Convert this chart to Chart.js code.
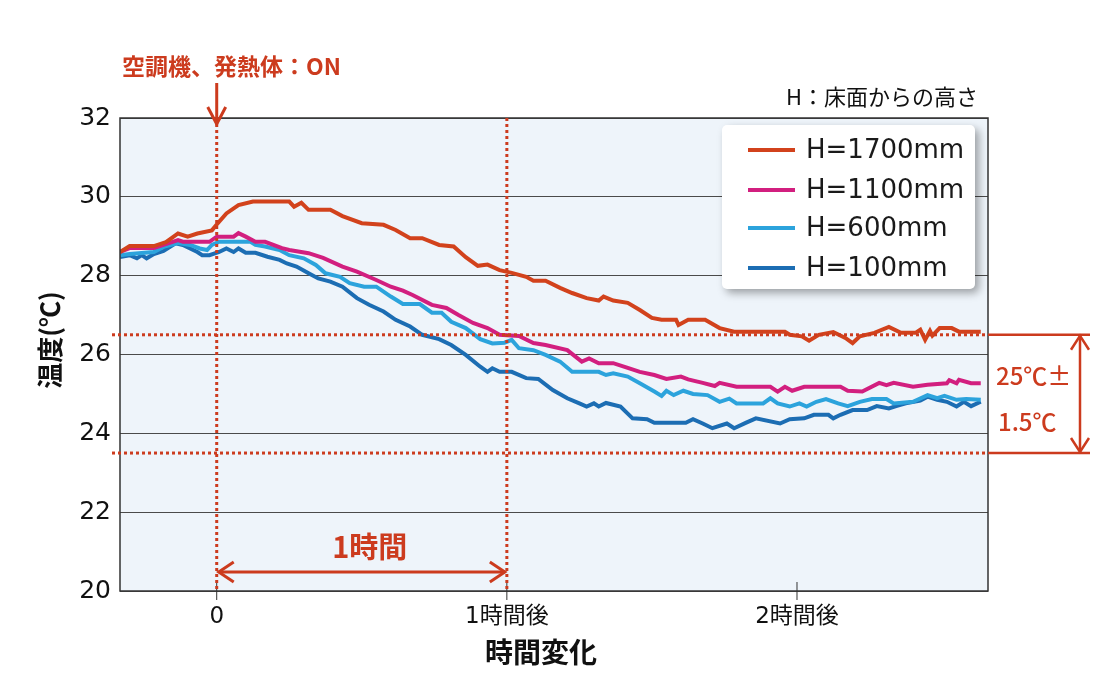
<!DOCTYPE html>
<html>
<head>
<meta charset="utf-8">
<script src="https://cdn.jsdelivr.net/npm/chart.js@4.4.1/dist/chart.umd.min.js"></script>
<style>
  body { margin: 0; background: #fff; }
  canvas { display: block; }
</style>
</head>
<body>
<canvas id="chart-temp" width="1120" height="685"></canvas>
<script>
// Data: [minutes from start, temperature]
const seriesLabels = ['H=1700mm', 'H=1100mm', 'H=600mm', 'H=100mm'];
const seriesColors = ['#d2421c', '#d21f7f', '#2ca3dc', '#1c6db3'];

const h1700 = [[-20,28.6],[-18,28.75],[-13,28.75],[-10.5,28.85],[-8,29.07],[-6,28.99],[-4,29.07],[-1,29.15],[0,29.3],[2,29.58],[4.5,29.79],[7.5,29.88],[15,29.88],[16,29.75],[17.5,29.85],[19,29.67],[23.5,29.67],[26,29.51],[30,29.33],[34.5,29.29],[37,29.16],[40,28.95],[42.5,28.95],[46,28.78],[49,28.74],[51.5,28.47],[54,28.25],[56,28.28],[58.5,28.14],[61,28.07],[64,27.97],[65.5,27.87],[68,27.87],[71,27.69],[73.5,27.56],[76.5,27.43],[79,27.37],[80,27.47],[82,27.37],[85,27.31],[87.5,27.13],[90,26.93],[92,26.88],[95,26.88],[95.5,26.75],[97.5,26.88],[101,26.88],[104,26.67],[107,26.58],[117.5,26.58],[118.5,26.5],[121,26.46],[122.5,26.35],[124.5,26.5],[127.5,26.57],[130,26.42],[131.5,26.29],[133,26.46],[136,26.55],[139,26.7],[141.5,26.55],[144.5,26.55],[145.5,26.63],[146.5,26.37],[147.5,26.6],[148,26.48],[149.5,26.67],[152,26.67],[153.5,26.58],[158,26.58]];

const h1100 = [[-20,28.6],[-18,28.7],[-13,28.7],[-8,28.9],[-7,28.86],[-1.5,28.86],[0,28.99],[3.5,28.99],[4.5,29.08],[6,28.99],[8,28.86],[10,28.86],[13.5,28.7],[15,28.65],[19,28.57],[22,28.45],[26,28.23],[29,28.1],[33,27.89],[36,27.72],[38.5,27.62],[40.5,27.51],[44.5,27.26],[47.5,27.18],[50,27.0],[53,26.8],[56,26.67],[58.5,26.5],[62.5,26.47],[65.5,26.29],[68,26.24],[72.5,26.11],[75.5,25.82],[77,25.9],[79,25.78],[82,25.78],[85,25.66],[87.5,25.56],[90.5,25.48],[93,25.38],[96,25.44],[97.5,25.37],[100.5,25.28],[103,25.2],[104,25.28],[107.5,25.18],[114.5,25.18],[116,25.06],[117.5,25.18],[119,25.08],[121.5,25.18],[129,25.18],[130.5,25.08],[133.5,25.06],[137,25.28],[138.5,25.22],[140,25.28],[144,25.18],[147,25.23],[151,25.27],[151.5,25.35],[153,25.27],[153.5,25.36],[156,25.27],[158,25.27]];

const h600 = [[-20,28.52],[-18,28.55],[-13,28.6],[-11,28.73],[-8,28.83],[-5.5,28.78],[-3.5,28.69],[-2,28.65],[-1,28.78],[0.5,28.86],[7,28.86],[8,28.78],[10,28.74],[13,28.65],[15,28.52],[18,28.44],[20.5,28.27],[22.5,28.06],[25.5,27.97],[27.5,27.81],[30.5,27.72],[33,27.72],[36,27.47],[38.5,27.28],[42,27.28],[44.5,27.06],[46.5,27.06],[48.5,26.83],[51.5,26.67],[54.5,26.39],[57,26.28],[59.5,26.3],[61,26.37],[62.5,26.16],[65.5,26.11],[68,25.99],[71,25.82],[73.5,25.56],[79,25.56],[80.5,25.48],[82,25.52],[85,25.44],[87.5,25.27],[90.5,25.06],[92,24.95],[93,25.08],[94.5,24.97],[96.5,25.08],[98.5,25.0],[101.5,24.97],[104,24.8],[106,24.88],[107.5,24.76],[113,24.76],[114.5,24.89],[116,24.76],[118.5,24.68],[120.5,24.76],[122,24.68],[124,24.8],[126,24.87],[128.5,24.76],[130.5,24.69],[133,24.8],[135.5,24.87],[138.5,24.87],[140,24.76],[144,24.8],[147,24.97],[149,24.89],[150.5,24.95],[153,24.85],[155,24.87],[158,24.85]];

const h100 = [[-20,28.47],[-18,28.52],[-16.5,28.44],[-15.5,28.52],[-14.5,28.44],[-13,28.55],[-11,28.63],[-8.5,28.82],[-7,28.78],[-4,28.6],[-3,28.52],[-1.5,28.52],[0.5,28.6],[2,28.69],[3.5,28.6],[4.5,28.69],[6,28.58],[8,28.58],[10.5,28.48],[13,28.4],[14.5,28.31],[16.5,28.23],[19,28.06],[21,27.93],[23.5,27.85],[26,27.72],[29,27.43],[31.5,27.26],[34.5,27.09],[37,26.88],[40,26.71],[42.5,26.5],[46,26.39],[48.5,26.24],[51.5,25.99],[54.5,25.69],[56,25.56],[57,25.65],[58.5,25.56],[61,25.56],[64,25.4],[66.5,25.38],[69.5,25.1],[72.5,24.89],[75,24.76],[76.5,24.68],[78,24.76],[79,24.68],[80.5,24.77],[83.5,24.68],[86,24.38],[89,24.36],[90.5,24.27],[97,24.27],[98.5,24.36],[100.5,24.25],[102.5,24.13],[105.5,24.25],[107,24.13],[109.5,24.27],[111.5,24.38],[116.5,24.25],[118.5,24.36],[121.5,24.38],[123.5,24.47],[126.5,24.47],[127.5,24.38],[129,24.47],[131.5,24.59],[134.5,24.59],[136.5,24.69],[139,24.63],[140.5,24.69],[142.5,24.76],[145.5,24.83],[147,24.93],[149,24.85],[151,24.8],[153,24.68],[154.5,24.8],[156,24.69],[158,24.8]];

const hourTicks = [0, 60, 120];
const hourLabels = ['0', '1時間後', '2時間後'];
const tempTicks = [20, 22, 24, 26, 28, 30, 32];
const markTimes = [0, 60];       // vertical dotted lines
const bandLimits = [26.5, 23.5]; // 25℃ ± 1.5℃

const RED = '#cc3b1e';
const NUM_FONT = '"DejaVu Sans", "Noto Sans CJK JP", sans-serif';
const JP_FONT = '"Noto Sans CJK JP", "DejaVu Sans", sans-serif';

function line(ctx, x1, y1, x2, y2) {
	ctx.beginPath();
	ctx.moveTo(x1, y1);
	ctx.lineTo(x2, y2);
	ctx.stroke();
}

function arrowHead(ctx, x, y, angle, len, half) {
	ctx.save();
	ctx.translate(x, y);
	ctx.rotate(angle);
	ctx.beginPath();
	ctx.moveTo(-len, -half);
	ctx.lineTo(0, 0);
	ctx.lineTo(-len, half);
	ctx.stroke();
	ctx.restore();
}

const overlay = {
	id: 'overlay',
	beforeDraw(chart) {
		const { ctx, chartArea: a } = chart;
		ctx.save();
		ctx.fillStyle = '#eef4fa';
		ctx.fillRect(a.left, a.top, a.right - a.left, a.bottom - a.top);
		ctx.restore();
	},
	afterDraw(chart) {
		const { ctx, chartArea: a, scales: { x, y } } = chart;
		ctx.save();

		// frame
		ctx.strokeStyle = '#333';
		ctx.lineWidth = 1.5;
		ctx.strokeRect(a.left, a.top, a.right - a.left, a.bottom - a.top);

		// x tick marks
		ctx.lineWidth = 1;
		hourTicks.forEach(v => {
			const px = x.getPixelForValue(v);
			line(ctx, px, a.bottom - 9, px, a.bottom + 9);
		});

		// dotted guide lines
		ctx.strokeStyle = RED;
		ctx.lineWidth = 3;
		ctx.setLineDash([3, 3]);
		markTimes.forEach(v => {
			const px = x.getPixelForValue(v);
			line(ctx, px, a.top, px, a.bottom);
		});
		bandLimits.forEach(v => {
			const py = y.getPixelForValue(v);
			line(ctx, a.left - 8, py, a.right, py);
		});
		ctx.setLineDash([]);
		ctx.lineWidth = 2.5;
		bandLimits.forEach(v => {
			const py = y.getPixelForValue(v);
			line(ctx, a.right, py, 1090, py);
		});

		// 25℃±1.5℃ bracket
		const yTop = y.getPixelForValue(bandLimits[0]);
		const yBot = y.getPixelForValue(bandLimits[1]);
		line(ctx, 1080, yTop + 1, 1080, yBot - 1);
		arrowHead(ctx, 1080, yTop + 1, -Math.PI / 2, 14, 9);
		arrowHead(ctx, 1080, yBot - 1, Math.PI / 2, 14, 9);
		ctx.fillStyle = RED;
		ctx.font = '500 24px ' + JP_FONT;
		ctx.textAlign = 'left';
		ctx.textBaseline = 'middle';
		ctx.fillText('25℃±', 996, 376);
		ctx.fillText('1.5℃', 998, 422);

		// 1時間 span arrow
		const x0 = x.getPixelForValue(markTimes[0]);
		const x1 = x.getPixelForValue(markTimes[1]);
		ctx.lineWidth = 3;
		line(ctx, x0 + 2, 572, x1 - 2, 572);
		arrowHead(ctx, x0 + 2, 572, Math.PI, 15, 10);
		arrowHead(ctx, x1 - 2, 572, 0, 15, 10);
		ctx.font = 'bold 29px ' + JP_FONT;
		ctx.textAlign = 'center';
		ctx.fillText('1時間', (x0 + x1) / 2 + 8, 547);

		// ON annotation
		line(ctx, x0, 83, x0, a.top + 6);
		arrowHead(ctx, x0, a.top + 6, Math.PI / 2, 17, 9);
		ctx.font = 'bold 23px ' + JP_FONT;
		ctx.textAlign = 'left';
		ctx.fillText('空調機、発熱体：ON', 122, 66);

		// note
		ctx.fillStyle = '#111';
		ctx.font = '22px ' + JP_FONT;
		ctx.textAlign = 'right';
		ctx.fillText('H：床面からの高さ', 978, 97);

		// axis titles
		ctx.font = 'bold 28px ' + JP_FONT;
		ctx.textAlign = 'center';
		ctx.fillText('時間変化', 541, 652);
		ctx.save();
		ctx.translate(50, 340);
		ctx.rotate(-Math.PI / 2);
		ctx.font = 'bold 26px ' + JP_FONT;
		ctx.fillText('温度(℃)', 0, 0);
		ctx.restore();

		// legend box
		ctx.save();
		ctx.shadowColor = 'rgba(0,0,0,0.35)';
		ctx.shadowBlur = 8;
		ctx.shadowOffsetX = 4;
		ctx.shadowOffsetY = 4;
		ctx.fillStyle = '#fff';
		ctx.beginPath();
		ctx.roundRect(722, 125, 253, 164, 5);
		ctx.fill();
		ctx.restore();
		const rows = [150, 190, 228, 268];
		ctx.font = '26px ' + NUM_FONT;
		ctx.textAlign = 'left';
		ctx.textBaseline = 'middle';
		chart.data.datasets.forEach((ds, i) => {
			ctx.strokeStyle = ds.borderColor;
			ctx.lineWidth = 4;
			line(ctx, 748, rows[i], 795, rows[i]);
			ctx.fillStyle = '#1a1a1a';
			ctx.fillText(ds.label, 806, rows[i] + 1);
		});

		ctx.restore();
	},
};

const ctx = document.getElementById('chart-temp');
const seriesData = [h1700, h1100, h600, h100];

new Chart(ctx, {
	type: 'line',
	data: {
		datasets: seriesData.map((pts, i) => ({
			label: seriesLabels[i],
			data: pts.map(p => ({ x: p[0], y: p[1] })),
			borderColor: seriesColors[i],
			borderWidth: 4,
			pointRadius: 0,
			tension: 0,
			fill: false,
		})),
	},
	options: {
		responsive: false,
		animation: false,
		devicePixelRatio: 1,
		layout: {
			padding: { top: 118, right: 132, bottom: 0, left: 0 },
		},
		plugins: {
			legend: { display: false },
			tooltip: { enabled: false },
		},
		scales: {
			x: {
				type: 'linear',
				min: -20,
				max: 159.5,
				afterBuildTicks: scale => {
					scale.ticks = hourTicks.map(v => ({ value: v }));
				},
				afterFit: scale => {
					scale.height = 94;
				},
				ticks: {
					callback: (v) => hourLabels[hourTicks.indexOf(v)],
					font: { family: NUM_FONT, size: 23 },
					color: '#111',
					padding: 12,
					maxRotation: 0,
					autoSkip: false,
				},
				grid: { display: false, drawTicks: false },
				border: { display: false },
			},
			y: {
				min: 20,
				max: 32,
				afterBuildTicks: scale => {
					scale.ticks = tempTicks.map(v => ({ value: v }));
				},
				afterFit: scale => {
					scale.width = 120;
				},
				ticks: {
					font: { family: NUM_FONT, size: 25 },
					color: '#111',
					padding: 9,
				},
				grid: { color: '#4a4a4a', lineWidth: 1, drawTicks: false },
				border: { display: false },
			},
		},
	},
	plugins: [overlay],
});
</script>
</body>
</html>
